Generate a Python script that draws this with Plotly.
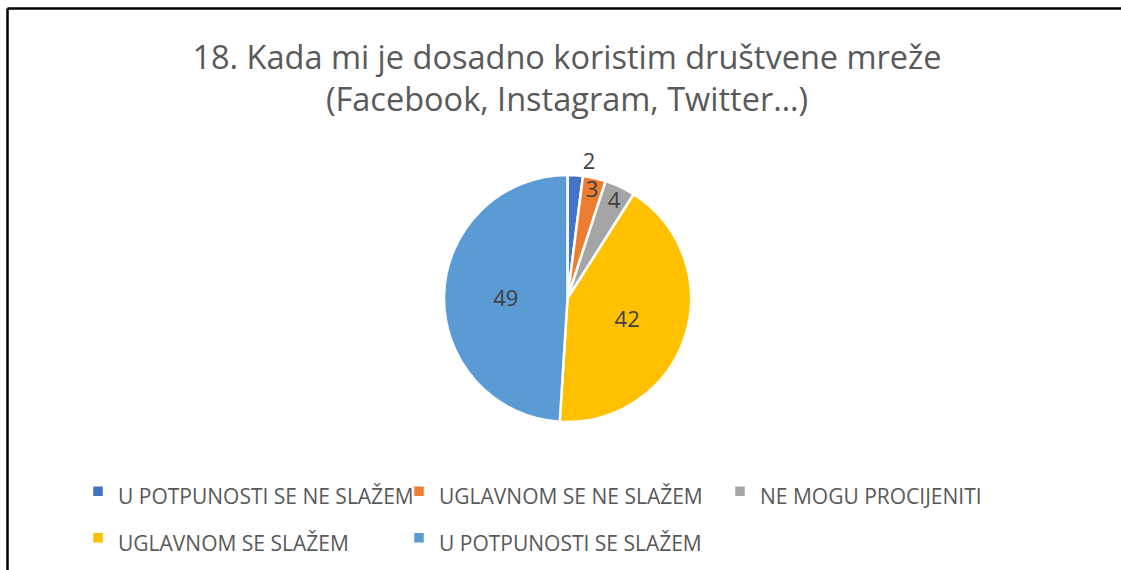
import plotly.graph_objects as go

labels = ["U POTPUNOSTI SE NE SLAŽEM", "UGLAVNOM SE NE SLAŽEM", "NE MOGU PROCIJENITI",
          "UGLAVNOM SE SLAŽEM", "U POTPUNOSTI SE SLAŽEM"]
values = [2, 3, 4, 42, 49]
colors = ["#4472C4", "#ED7D31", "#A5A5A5", "#FFC000", "#5B9BD5"]
title_lines = ["18. Kada mi je dosadno koristim društvene mreže", "(Facebook, Instagram, Twitter…)"]

W, H = 1121, 570
FONT = "Open Sans, Liberation Sans, Arial, sans-serif"

# visible legend text size is set per entry; the legend font size sets the row pitch
legend_labels = ["<span style='font-size:21px'>" + lab + "</span>" for lab in labels]

fig = go.Figure(go.Pie(
    labels=legend_labels,
    values=values,
    sort=False,
    direction="clockwise",
    rotation=0,
    marker=dict(colors=colors, line=dict(color="white", width=2.5)),
    textinfo="value",
    textposition=["outside", "inside", "inside", "inside", "inside"],
    insidetextorientation="horizontal",
    textfont=dict(family=FONT, size=22, color="#404040"),
    hovertemplate="%{customdata}: %{value}<extra></extra>",
    customdata=labels,
    domain=dict(x=[444 / W, 691 / W], y=[1 - 422 / H, 1 - 175 / H]),
    showlegend=True,
))

fig.update_layout(
    width=W, height=H,
    autosize=False,
    margin=dict(l=0, r=0, t=0, b=0, pad=0),
    paper_bgcolor="white",
    plot_bgcolor="white",
    uniformtext=dict(minsize=22, mode="show"),
    title=dict(
        text="<br>".join(title_lines),
        x=567 / W, xanchor="center",
        yref="container",
        y=1 - 69 / H, yanchor="top",
        font=dict(family=FONT, size=32.5, color="#595959"),
    ),
    legend=dict(
        orientation="h",
        x=78 / W, xanchor="left",
        y=1 - 463 / H, yanchor="top",
        entrywidth=276, entrywidthmode="pixels",
        font=dict(family=FONT, size=33.5, color="#595959"),
    ),
    shapes=[
        dict(type="line", xref="paper", yref="paper", x0=7.5 / W, x1=1.0, y0=1 - 8.5 / H, y1=1 - 8.5 / H,
             line=dict(color="black", width=2.5)),
        dict(type="line", xref="paper", yref="paper", x0=7.5 / W, x1=7.5 / W, y0=0, y1=1 - 8.5 / H,
             line=dict(color="black", width=2.5)),
    ],
)

fig.write_html(
    "out.html",
    config={"displayModeBar": False},
    post_script="document.body.style.margin='0';document.body.style.overflow='hidden';",
)
